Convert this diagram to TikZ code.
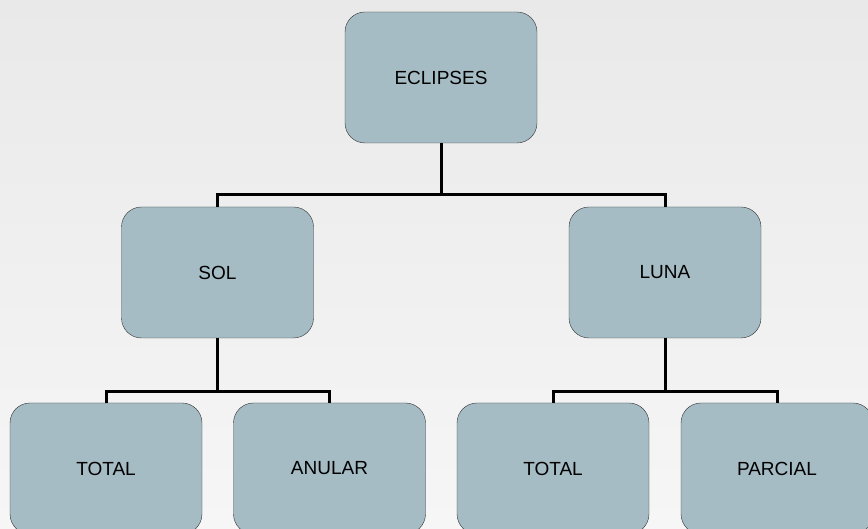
\documentclass[tikz,border=0pt]{standalone}
\usepackage{fontspec}
\setmainfont{Liberation Sans}
\usepackage{tikz}

\definecolor{boxfill}{HTML}{A5BCC4}
\definecolor{bgtop}{HTML}{E9E9E9}
\definecolor{bgbot}{HTML}{F6F6F6}

\tikzset{
    caja/.style={draw=black!80, fill=boxfill, rounded corners=20pt,
        minimum width=192pt, minimum height=131pt, font=\fontsize{19}{23}\selectfont},
    rama/.style={line width=3pt}
}

\begin{document}
\begin{tikzpicture}[x=1pt, y=1pt]

        \useasboundingbox (0,0) rectangle (868,529);
        \clip (0,0) rectangle (868,529);
        \shade[top color=bgtop, bottom color=bgbot] (0,0) rectangle (868,529);

        % niveles
        \node[caja] (ecl) at (441, 451.5) {ECLIPSES};
        \node[caja] (sol) at (217.5, 256.5) {SOL};
        \node[caja] (luna) at (665, 256.5) {LUNA};

        \node[caja] (soltot) at (106, 60.5) {TOTAL};
        \node[caja] (solanu) at (329.5, 60.5) {ANULAR};
        \node[caja] (lunatot) at (553, 60.5) {TOTAL};
        \node[caja] (lunapar) at (777, 60.5) {PARCIAL};

        \coordinate (bus1) at (0, 334);
        \coordinate (bus2) at (0, 137);

        % ramas
        \draw[rama] (ecl.south) -- (ecl.south |- bus1) -| (sol.north);
        \draw[rama] (ecl.south |- bus1) -| (luna.north);

        \draw[rama] (sol.south) -- (sol.south |- bus2) -| (soltot.north);
        \draw[rama] (sol.south |- bus2) -| (solanu.north);

        \draw[rama] (luna.south) -- (luna.south |- bus2) -| (lunatot.north);
        \draw[rama] (luna.south |- bus2) -| (lunapar.north);

\end{tikzpicture}
\end{document}
